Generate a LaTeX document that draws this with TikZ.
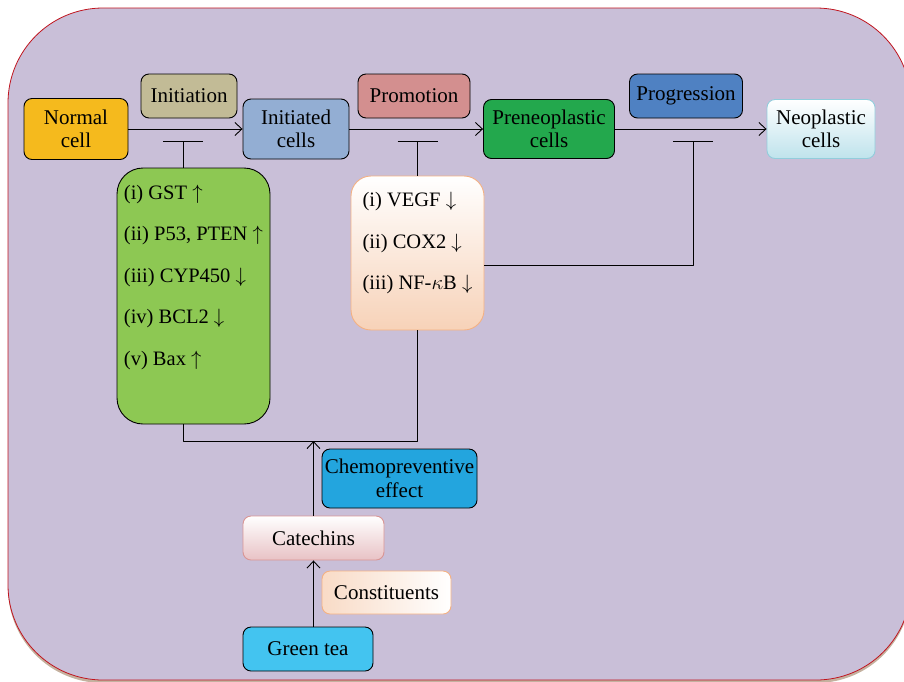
\documentclass[tikz,border=0pt]{standalone}
\usepackage{fontspec}
\setmainfont{Liberation Serif}
\usetikzlibrary{arrows.meta,calc,positioning}

\definecolor{bgLilac}{HTML}{C9BFD8}
\definecolor{bgRim}{HTML}{C0141E}
\definecolor{cNormal}{HTML}{F5BA1D}
\definecolor{cInit}{HTML}{C2BB96}
\definecolor{cInitCell}{HTML}{93AED3}
\definecolor{cPromo}{HTML}{D38F8F}
\definecolor{cPreneo}{HTML}{23A84D}
\definecolor{cProg}{HTML}{4F81C2}
\definecolor{cNeo}{HTML}{BFE3EC}
\definecolor{cNeoRim}{HTML}{92CDDC}
\definecolor{cGreenList}{HTML}{8DC853}
\definecolor{cPeach}{HTML}{F7D2B8}
\definecolor{cPeachRim}{HTML}{F4B183}
\definecolor{cChemo}{HTML}{23A5DE}
\definecolor{cCate}{HTML}{E8C2C5}
\definecolor{cCateRim}{HTML}{D99594}
\definecolor{cTea}{HTML}{43C4F0}

\begin{document}
\begin{tikzpicture}[x=1pt, y=-1pt, line join=round,
    >={Straight Barb[length=7pt,width=13pt]},
    font=\fontsize{21}{23.5}\selectfont,
    box/.style={draw=black, line width=0.9pt, rounded corners=8pt,
                align=center, inner sep=0pt},
    listbox/.style={box, align=left, font=\fontsize{20.5}{41.5}\selectfont},
    link/.style={line width=0.9pt},
    stopper/.style={link, -{Bar[width=40pt,line width=0.9pt]}}]

  \useasboundingbox (0,0) rectangle (904,681);

  %--- Background panel -----------------------------------------------------
  \fill[black!35!brown!45, rounded corners=95pt] (8,11) rectangle (911,683);
  \draw[bgRim, fill=bgLilac, line width=0.8pt, rounded corners=95pt]
        (8,8) rectangle (911,680);

  %--- Main row: stages of carcinogenesis -----------------------------------
  \node[box, fill=cNormal, minimum width=104pt, minimum height=61pt]
        (normal) at (76,129) {Normal\\cell};
  \node[box, fill=cInitCell, minimum width=106pt, minimum height=60pt]
        (initiated) at (296,129) {Initiated\\cells};
  \node[box, fill=cPreneo, minimum width=131pt, minimum height=59pt]
        (preneo) at (549,129) {Preneoplastic\\cells};
  \node[box, draw=cNeoRim, top color=white, bottom color=cNeo,
        minimum width=108pt, minimum height=59pt]
        (neo) at (821,129) {Neoplastic\\cells};

  %--- Stage labels above the arrows -----------------------------------------
  \node[box, fill=cInit, minimum width=96pt, minimum height=44pt]
        (initiation) at (189,96) {Initiation};
  \node[box, fill=cPromo, minimum width=112pt, minimum height=44pt]
        (promotion) at (414,96) {Promotion};
  \node[box, fill=cProg, minimum width=113pt, minimum height=44pt]
        (progression) at (686,96) {Progression};

  %--- Arrows of the main row -----------------------------------------------
  \draw[link, ->] (normal) -- (initiated);
  \draw[link, ->] (initiated) -- (preneo);
  \draw[link, ->] (preneo) -- (neo);

  %--- Marker lists ---------------------------------------------------------
  \node[listbox, fill=cGreenList, rounded corners=26pt,
        minimum width=153pt, minimum height=256pt]
        (greenlist) at (193.5,296)
        {(i) GST $\uparrow$\\(ii) P53, PTEN $\uparrow$\\(iii) CYP450 $\downarrow$\\
         (iv) BCL2 $\downarrow$\\(v) Bax $\uparrow$\\~};
  \node[listbox, draw=cPeachRim, top color=white, bottom color=cPeach,
        rounded corners=20pt, minimum width=133pt, minimum height=154pt]
        (peachlist) at (417.5,253)
        {(i) VEGF $\downarrow$\\(ii) COX2 $\downarrow$\\(iii) NF-$\kappa$B $\downarrow$\\[-18pt]~};

  %--- Inhibition bars ------------------------------------------------------
  \coordinate (initBar) at (183,141);
  \coordinate (progBar) at (693,141);
  \draw[stopper] (greenlist.north -| initBar) -- (initBar);
  \draw[stopper] (peachlist.north) -- (peachlist.north |- initBar);
  \draw[stopper] (peachlist.east |- 0,265) -| (progBar);

  %--- Green tea chain ------------------------------------------------------
  \node[box, fill=cChemo, minimum width=155pt, minimum height=59pt]
        (chemo) at (399.5,478.5) {Chemopreventive\\effect};
  \node[box, draw=cCateRim, top color=white, bottom color=cCate,
        minimum width=141pt, minimum height=44pt]
        (catechins) at (313.5,538) {Catechins};
  \node[box, draw=cPeachRim, shading angle=60, left color=cPeach!80,
        right color=white, minimum width=129pt, minimum height=43pt]
        (constituents) at (386.5,592.5) {Constituents};
  \node[box, fill=cTea, minimum width=130pt, minimum height=44pt]
        (greentea) at (308,649) {Green tea};

  \coordinate (joint) at (catechins.north |- 0,441);
  \draw[link] (greenlist.south -| initBar) |- (joint) -| (peachlist.south);
  \draw[link, ->] (catechins.north) -- (joint);
  \draw[link, ->] (greentea.north -| catechins) -- (catechins.south);

\end{tikzpicture}
\end{document}
